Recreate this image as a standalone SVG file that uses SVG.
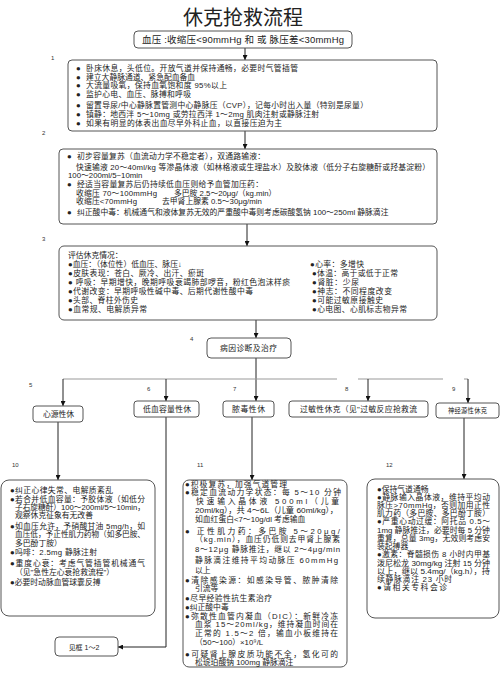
<svg xmlns="http://www.w3.org/2000/svg" width="500" height="675" viewBox="0 0 500 675">
<defs>
<style>
text{font-family:"Liberation Sans","Noto Sans CJK SC",sans-serif;fill:#222;}
.t{font-size:7.8px;}
.u{font-size:7.8px;}
.n{font-size:6px;fill:#333;}
.c{text-anchor:middle;}
.box{fill:#fff;stroke:#555;stroke-width:1;}
.ln{fill:none;stroke:#222;stroke-width:1;}
.gl{fill:none;stroke:#999;stroke-width:1;}
</style>
<marker id="ah" viewBox="0 0 8 8" refX="8" refY="4" markerWidth="5" markerHeight="5" orient="auto">
<path d="M0,0 L8,4 L0,8 z" fill="#111"/>
</marker>
</defs>
<rect width="500" height="675" fill="#fff"/>

<text x="243" y="25" class="c" style="font-size:20px;font-family:'Noto Sans CJK SC',sans-serif">休克抢救流程</text>

<g id="connectors">
<line class="ln" x1="245" y1="48" x2="245" y2="60" marker-end="url(#ah)"/>
<line class="ln" x1="245" y1="131" x2="245" y2="149" marker-end="url(#ah)"/>
<line class="ln" x1="247" y1="224" x2="247" y2="246" marker-end="url(#ah)"/>
<line class="ln" x1="256" y1="320" x2="256" y2="338" marker-end="url(#ah)"/>
<line class="ln" x1="256" y1="358" x2="256" y2="401" marker-end="url(#ah)"/>
<line class="gl" x1="337" y1="379" x2="63" y2="379"/>
<line class="gl" x1="358" y1="379" x2="443" y2="379"/>
<line class="gl" x1="464" y1="379" x2="468" y2="379"/>
<line class="ln" x1="63" y1="379" x2="63" y2="406" marker-end="url(#ah)"/>
<line class="ln" x1="166" y1="379" x2="166" y2="401" marker-end="url(#ah)"/>
<line class="ln" x1="368" y1="379" x2="368" y2="401" marker-end="url(#ah)"/>
<line class="ln" x1="468" y1="379" x2="468" y2="403" marker-end="url(#ah)"/>
<line class="ln" x1="58" y1="422" x2="58" y2="480" marker-end="url(#ah)"/>
<polyline class="ln" points="166,417 166,647 118,647" marker-end="url(#ah)"/>
<line class="ln" x1="252" y1="417" x2="252" y2="480" marker-end="url(#ah)"/>
<line class="ln" x1="464" y1="418" x2="464" y2="479" marker-end="url(#ah)"/>
</g>

<g id="start">
<rect class="box" x="134" y="31" width="218" height="17" rx="4"/>
<text x="142" y="43" style="font-size:9.5px" textLength="202" lengthAdjust="spacing">血压 :收缩压&lt;90mmHg 和 或 脉压差&lt;30mmHg</text>
</g>

<g id="step1">
<text x="51" y="60" class="n">1</text>
<rect class="box" x="68" y="60" width="369" height="71" rx="4"/>
<g class="t">
<text x="76" y="71">●</text><text x="86" y="71" textLength="212" lengthAdjust="spacing">卧床休息，头低位。开放气道并保持通畅，必要时气管插管</text>
<text x="76" y="79.5">●</text><text x="86" y="79.5">建立大静脉通道、紧急配血备血</text>
<text x="76" y="88">●</text><text x="86" y="88" textLength="141" lengthAdjust="spacing">大流量吸氧，保持血氧饱和度 95%以上</text>
<text x="76" y="96.5">●</text><text x="86" y="96.5" textLength="105" lengthAdjust="spacing">监护心电、血压、脉搏和呼吸</text>
<text x="76" y="107.5">●</text><text x="86" y="107.5" textLength="282" lengthAdjust="spacing">留置导尿/中心静脉置管测中心静脉压（CVP），记每小时出入量（特别是尿量）</text>
<text x="76" y="116.5">●</text><text x="86" y="116.5" textLength="233" lengthAdjust="spacing">镇静：地西泮 5～10mg 或劳拉西泮 1～2mg 肌肉注射或静脉注射</text>
<text x="76" y="126">●</text><text x="86" y="126" textLength="196" lengthAdjust="spacing">如果有明显的体表出血尽早外科止血，以直接压迫为主</text>
</g>
</g>

<g id="step2">
<text x="42" y="135" class="n">2</text>
<rect class="box" x="59" y="149" width="378" height="75" rx="4"/>
<g class="t">
<text x="67" y="159">●</text><text x="77" y="159" textLength="188" lengthAdjust="spacing">初步容量复苏（血流动力学不稳定者），双通路输液：</text>
<text x="76" y="170" textLength="354" lengthAdjust="spacing">快速输液 20～40ml/kg 等渗晶体液（如林格液或生理盐水）及胶体液（低分子右旋糖酐或羟基淀粉）</text>
<text x="68" y="178">100～200ml/5~10min</text>
<text x="67" y="187">●</text><text x="77" y="187" textLength="186" lengthAdjust="spacing">经适当容量复苏后仍持续低血压则给予血管加压药：</text>
<text x="76" y="196" textLength="81" lengthAdjust="spacing">收缩压 70～100mmHg</text><text x="174" y="196">多巴胺 2.5～20μg/（kg.min）</text>
<text x="76" y="204" textLength="61" lengthAdjust="spacing">收缩压&lt;70mmHg</text><text x="162" y="204">去甲肾上腺素 0.5～30μg/min</text>
<text x="67" y="215">●</text><text x="77" y="215">纠正酸中毒：机械通气和液体复苏无效的严重酸中毒则考虑碳酸氢钠 100～250ml 静脉滴注</text>
</g>
</g>

<g id="step3">
<text x="42" y="241" class="n">3</text>
<rect class="box" x="59" y="246" width="378" height="74" rx="5"/>
<g class="t">
<text x="68" y="258">评估休克情况：</text>
<text x="68" y="267">●血压：（体位性）低血压、脉压↓</text>
<text x="68" y="276" textLength="136" lengthAdjust="spacing">●皮肤表现：苍白、厥冷、出汗、瘀斑</text>
<text x="68" y="285" textLength="222" lengthAdjust="spacing">● 呼吸：早期增快，晚期呼吸衰竭肺部啰音，粉红色泡沫样痰</text>
<text x="68" y="294" textLength="185" lengthAdjust="spacing">●代谢改变：早期呼吸性碱中毒、后期代谢性酸中毒</text>
<text x="68" y="303" textLength="70" lengthAdjust="spacing">●头部、脊柱外伤史</text>
<text x="68" y="312" textLength="79" lengthAdjust="spacing">●血常规、电解质异常</text>
</g>
<g class="u">
<text x="310" y="267" textLength="54" lengthAdjust="spacing">●心率：多增快</text>
<text x="312" y="276" textLength="86" lengthAdjust="spacing">●体温：高于或低于正常</text>
<text x="312" y="285" textLength="47" lengthAdjust="spacing">●肾脏：少尿</text>
<text x="312" y="294" textLength="80" lengthAdjust="spacing">●神志：不同程度改变</text>
<text x="312" y="303" textLength="71" lengthAdjust="spacing">●可能过敏原接触史</text>
<text x="312" y="312" textLength="95" lengthAdjust="spacing">●心电图、心肌标志物异常</text>
</g>
</g>

<g id="step4">
<text x="190" y="341" class="n">4</text>
<rect class="box" x="207" y="338" width="84" height="20" rx="4"/>
<text x="220" y="351" class="t" textLength="57" lengthAdjust="spacing">病因诊断及治疗</text>
</g>

<g id="n5">
<text x="29" y="387" class="n">5</text>
<rect class="box" x="33" y="406" width="50" height="16" rx="3"/>
<text x="43" y="417" class="t" textLength="31" lengthAdjust="spacing">心源性休</text>
</g>
<g id="n6">
<text x="147" y="391" class="n">6</text>
<rect class="box" x="134" y="401" width="65" height="16" rx="3"/>
<text x="143" y="412" class="t" textLength="48" lengthAdjust="spacing">低血容量性休</text>
</g>
<g id="n7">
<text x="233" y="391" class="n">7</text>
<rect class="box" x="223" y="401" width="51" height="16" rx="3"/>
<text x="232" y="412" class="t" textLength="33" lengthAdjust="spacing">脓毒性休</text>
</g>
<g id="n8">
<text x="345" y="391" class="n">8</text>
<rect class="box" x="289" y="401" width="139" height="16" rx="3"/>
<text x="300" y="412" class="t" textLength="117" lengthAdjust="spacing">过敏性休克（见"过敏反应抢救流</text>
</g>
<g id="n9">
<text x="452" y="391" class="n">9</text>
<rect class="box" x="436" y="403" width="63" height="15" rx="3"/>
<text x="448" y="413" style="font-size:6.3px" textLength="39" lengthAdjust="spacing">神经源性休克</text>
</g>

<g id="n10">
<text x="12" y="467" class="n">10</text>
<rect class="box" x="1" y="480" width="154" height="136" rx="8"/>
<g class="u">
<text x="10" y="493" textLength="103" lengthAdjust="spacing">●纠正心律失常、电解质紊乱</text>
<text x="10" y="501.5" textLength="135" lengthAdjust="spacing">●若合并低血容量：予胶体液（如低分</text>
<text x="15" y="509.5" textLength="130" lengthAdjust="spacingAndGlyphs">子右旋糖酐）100～200ml/5～10min，</text>
<text x="15" y="517.5">观察休克征象有无改善</text>
<text x="10" y="529" textLength="135" lengthAdjust="spacing">●如血压允许，予硝酸甘油 5mg/h，如</text>
<text x="15" y="537" textLength="130" lengthAdjust="spacingAndGlyphs">血压低，予正性肌力药物（如多巴胺、</text>
<text x="15" y="546">多巴酚丁胺）</text>
<text x="10" y="555" textLength="87" lengthAdjust="spacing">●吗啡：2.5mg 静脉注射</text>
<text x="10" y="566" textLength="135" lengthAdjust="spacing">●重度心衰：考虑气管插管机械通气</text>
<text x="15" y="575">（见"急性左心衰抢救流程"）</text>
<text x="10" y="585">●必要时动脉血管球囊反搏</text>
</g>
</g>

<g id="ref12">
<rect class="box" x="55" y="637" width="63" height="19" rx="4"/>
<text x="84" y="650" class="c" style="font-size:7px">见框 1～2</text>
</g>

<g id="n11">
<text x="197" y="467" class="n">11</text>
<rect class="box" x="183" y="480" width="164" height="187" rx="6"/>
<g class="u">
<text x="185" y="486.5" textLength="102" lengthAdjust="spacing">●积极复苏，加强气道管理</text>
<text x="185" y="494.5" textLength="156" lengthAdjust="spacing">●稳定血流动力学状态：每 5～10 分钟</text>
<text x="196" y="503.5" textLength="143" lengthAdjust="spacing">快速输入晶体液 500ml（儿童</text>
<text x="195" y="513" textLength="143" lengthAdjust="spacingAndGlyphs">20ml/kg），共 4～6L（儿童 60ml/kg），</text>
<text x="195" y="522">如血红蛋白&lt;7～10g/dl 考虑输血</text>
<text x="185" y="533.5" textLength="155" lengthAdjust="spacing">● 正性肌力药：多巴胺 5～20μg/</text>
<text x="195" y="542" textLength="145" lengthAdjust="spacing">（kg.min），血压仍低则去甲肾上腺素</text>
<text x="195" y="551.5" textLength="145" lengthAdjust="spacing">8～12μg 静脉推注，继以 2～4μg/min</text>
<text x="195" y="563" textLength="143" lengthAdjust="spacing">静脉滴注维持平均动脉压 60mmHg</text>
<text x="195" y="573">以上</text>
<text x="185" y="582.5" textLength="153" lengthAdjust="spacing">●清除感染源：如感染导管、脓肿清除</text>
<text x="195" y="591">引流等</text>
<text x="185" y="600.5" textLength="87" lengthAdjust="spacing">●尽早经验性抗生素治疗</text>
<text x="185" y="609.5">●纠正酸中毒</text>
<text x="185" y="618.5" textLength="153" lengthAdjust="spacing">●弥散性血管内凝血（DIC）：新鲜冷冻</text>
<text x="195" y="627" textLength="143" lengthAdjust="spacing">血浆 15～20ml/kg，维持凝血时间在</text>
<text x="195" y="636" textLength="143" lengthAdjust="spacing">正常的 1.5～2 倍，输血小板维持在</text>
<text x="195" y="645">（50～100）×10⁹/L</text>
<text x="185" y="657" textLength="153" lengthAdjust="spacing">●可疑肾上腺皮质功能不全，氢化可的</text>
<text x="195" y="665">松琥珀酸钠 100mg 静脉滴注</text>
</g>
</g>

<g id="n12">
<text x="386" y="467" class="n">12</text>
<rect class="box" x="367" y="479" width="132" height="139" rx="8"/>
<g class="u">
<text x="377" y="492">●保持气道通畅</text>
<text x="377" y="500" textLength="113" lengthAdjust="spacing">●静脉输入晶体液，维持平均动</text>
<text x="377" y="508" textLength="113" lengthAdjust="spacing">脉压&gt;70mmHg，否则加用正性</text>
<text x="377" y="515.5" textLength="113" lengthAdjust="spacing">肌力药（多巴胺、多巴酚丁胺）</text>
<text x="377" y="524" textLength="113" lengthAdjust="spacing">●严重心动过缓：阿托品 0.5～</text>
<text x="377" y="533" textLength="113" lengthAdjust="spacingAndGlyphs">1mg 静脉推注，必要时每 5 分钟</text>
<text x="377" y="540.5" textLength="113" lengthAdjust="spacing">重复，总量 3mg，无效则考虑安</text>
<text x="377" y="549">装起搏器</text>
<text x="377" y="557" textLength="113" lengthAdjust="spacing">●激素：脊髓损伤 8 小时内甲基</text>
<text x="377" y="566" textLength="113" lengthAdjust="spacingAndGlyphs">泼尼松龙 30mg/kg 注射 15 分钟</text>
<text x="377" y="573.5" textLength="113" lengthAdjust="spacingAndGlyphs">以上，继以 5.4mg/（kg.h），持</text>
<text x="377" y="582" textLength="75" lengthAdjust="spacing">续静脉滴注 23 小时</text>
<text x="377" y="589.5" textLength="70" lengthAdjust="spacing">●请相关专科会诊</text>
</g>
</g>
</svg>
